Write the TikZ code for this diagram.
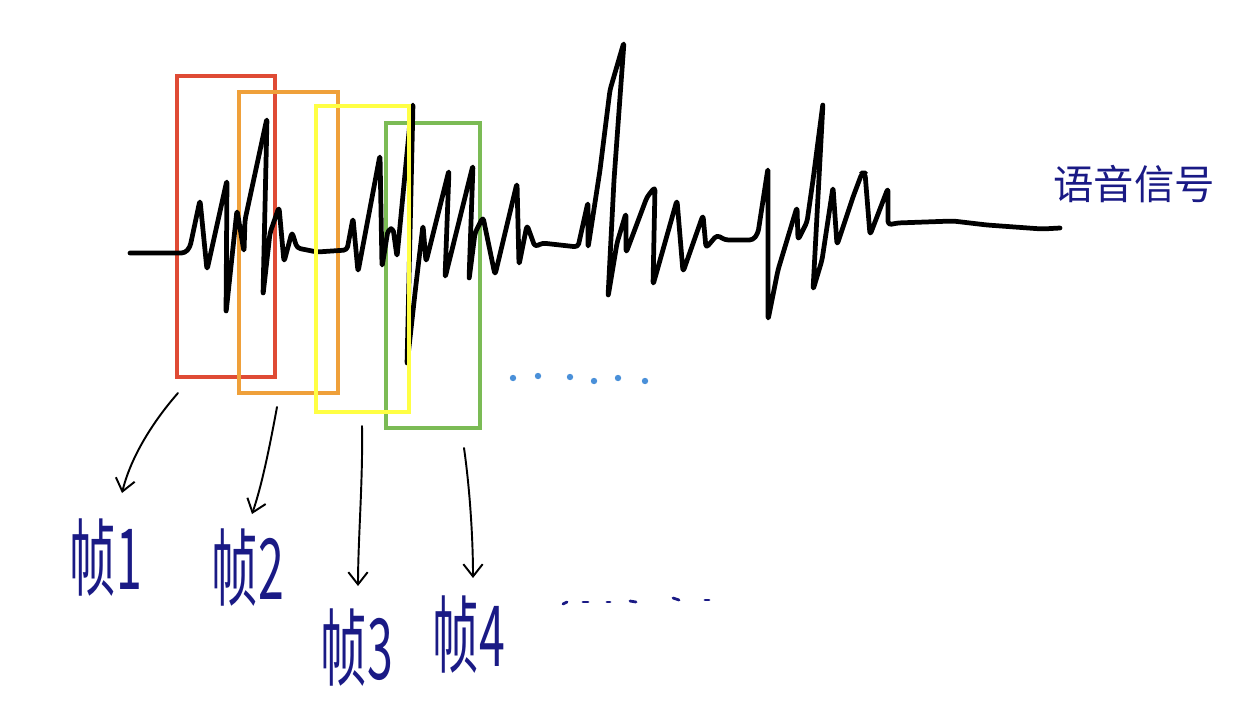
\documentclass[tikz,border=0pt]{standalone}
\usepackage{fontspec}
\newfontfamily\cjk{Noto Sans CJK SC}
\usetikzlibrary{arrows.meta}
\definecolor{frred}{HTML}{DF4B35}
\definecolor{frorange}{HTML}{EFA03A}
\definecolor{fryellow}{HTML}{FFFF44}
\definecolor{frgreen}{HTML}{7BBB55}
\definecolor{inkblue}{HTML}{1A1A85}
\definecolor{dotblue}{HTML}{4A90D9}
\tikzset{
  wave/.style={line width=2.7pt, line cap=round, line join=round, rounded corners=2pt},
  framebox/.style={line width=1.8pt},
  pointer/.style={line width=1.1pt, line cap=round, -{Straight Barb[length=7pt,width=11pt,line width=1.1pt]}},
  framelabel/.style={inkblue, font=\cjk\fontsize{48}{48}\selectfont, inner sep=0pt},
  siglabel/.style={inkblue, font=\cjk\fontsize{23}{23}\selectfont, inner sep=0pt},
  bluedot/.style={fill=dotblue, draw=none},
  inkdash/.style={inkblue, line width=1.6pt, line cap=round}
}
\begin{document}
\begin{tikzpicture}[x=0.02cm, y=-0.02cm]
\useasboundingbox (0,0) rectangle (1256,720);
% frame boxes
\draw[framebox, frred] (177,76) rectangle (275,377);
\draw[framebox, frorange] (239,92) rectangle (338,393);
\draw[framebox, frgreen] (386,123) rectangle (480,428);
% waveform
\draw[wave] (130,253) -- (185,253) -- (190,247) -- (200,200) -- (207,270) -- (227,180) -- (226,313) -- (237,210) -- (244,252) -- (245,220) -- (267,118) -- (263,295) -- (270,233) -- (279,207) -- (284,262) -- (292,232) -- (297,248) -- (317,252) -- (347,250) -- (353,218) -- (358,272) -- (380,155) -- (382,267) -- (388,230) -- (393,228) -- (397,257) -- (410,122) -- (413,103) -- (407,365) -- (415,293) -- (423,225) -- (426,262) -- (449,170) -- (445,278) -- (473,165) -- (469,280) -- (475,233) -- (483,217) -- (495,275) -- (517,183) -- (519,265) -- (527,225) -- (535,247) -- (542,243) -- (578,247) -- (588,202) -- (588,248) -- (600,170) -- (610,90) -- (624,42) -- (614,180) -- (608,297) -- (617,243) -- (626,213) -- (626,253) -- (647,197) -- (655,187) -- (653,285) -- (677,200) -- (683,272) -- (703,215) -- (706,248) -- (717,235) -- (725,240) -- (753,240) -- (758,233) -- (768,168) -- (768,320) -- (778,270) -- (797,207) -- (798,240) -- (807,222) -- (813,180) -- (823,103) -- (813,290) -- (822,260) -- (833,187) -- (837,245) -- (853,197) -- (862,173) -- (865,173) -- (870,235) -- (888,188) -- (888,225) -- (897,223) -- (953,221) -- (987,225) -- (1042,229) -- (1060,228);
\draw[framebox, fryellow] (316,106) rectangle (409,412);
% labels
\node[siglabel] (sig) at (1134,184) {语音信号};
\node[framelabel] (f1) at (106,558) {\scalebox{0.55}[1]{帧1}};
\node[framelabel] (f2) at (248,568) {\scalebox{0.55}[1]{帧2}};
\node[framelabel] (f3) at (357,648) {\scalebox{0.55}[1]{帧3}};
\node[framelabel] (f4) at (469,635) {\scalebox{0.55}[1]{帧4}};
% arrow anchors
\coordinate (s1) at (178,393);
\coordinate (e1) at (122,493);
\coordinate (s2) at (277,407);
\coordinate (e2) at (252,514);
\coordinate (s3) at (362,426);
\coordinate (e3) at (358,586);
\coordinate (s4) at (464,448);
\coordinate (e4) at (473,578);
\draw[pointer] (s1) .. controls (150,425) and (130,460) .. (e1);
\draw[pointer] (s2) .. controls (270,445) and (262,485) .. (e2);
\draw[pointer] (s3) .. controls (363,480) and (358,540) .. (e3);
\draw[pointer] (s4) .. controls (470,490) and (473,540) .. (e4);
% blue dots
\foreach \x/\y in {513/378, 538/376, 570/377, 594/381, 618/378, 645/381}
  \fill[bluedot] (\x,\y) circle (3.2);
% ink dashes
\draw[inkdash] (563,604) -- (567,602);
\draw[inkdash] (583,602) -- (588,602);
\draw[inkdash] (607,602) -- (610,602);
\draw[inkdash] (630,601) -- (636,602);
\draw[inkdash] (673,598) -- (679,600);
\draw[inkdash] (705,600) -- (709,600);
\end{tikzpicture}
\end{document}
